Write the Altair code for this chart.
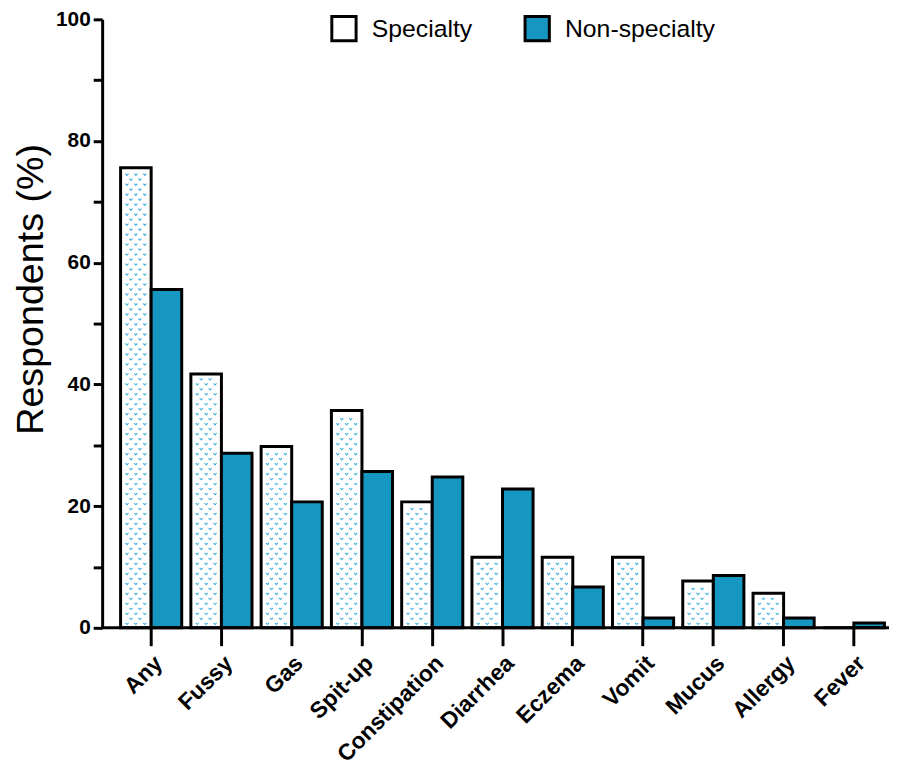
import altair as alt
import pandas as pd

categories = ["Any", "Fussy", "Gas", "Spit-up", "Constipation", "Diarrhea",
              "Eczema", "Vomit", "Mucus", "Allergy", "Fever"]
groups = ["Specialty", "Non-specialty"]
specialty = [75.6, 41.7, 29.8, 35.7, 20.7, 11.6, 11.6, 11.6, 7.7, 5.7, 0.0]
non_specialty = [55.6, 28.7, 20.7, 25.7, 24.8, 22.8, 6.7, 1.6, 8.6, 1.6, 0.8]
y_ticks = list(range(0, 101, 10))

rows = []
for c, s, n in zip(categories, specialty, non_specialty):
    rows.append({"cat": c, "group": "Specialty", "value": s})
    rows.append({"cat": c, "group": "Non-specialty", "value": n})
df = pd.DataFrame(rows)

# decorative "v" pattern inside the Specialty bars (derived from the values)
pat = []
step = 0.82
for c, s in zip(categories, specialty):
    k = 0
    yv = 0.7
    while yv < s - 0.6:
        pat.append({"cat": c, "y": yv, "parity": k % 2})
        yv += step
        k += 1
pat_df = pd.DataFrame(pat)

FONT = "Liberation Sans"
NS_COLOR = "#1597c1"
PAT_COLOR = "#45b3dc"
BAND_PX = 61.7  # approx band width in px, for placing pattern columns

x_enc = alt.X("cat:N", sort=categories,
              scale=alt.Scale(paddingInner=0.13, paddingOuter=0.065),
              axis=alt.Axis(title=None, domain=False, tickSize=18, tickWidth=3,
                            tickColor="black", labelAngle=-45, labelFontSize=23,
                            labelFontWeight="bold", labelFont=FONT,
                            labelColor="black", labelPadding=6))
xo_enc = alt.XOffset("group:N", sort=groups,
                     scale=alt.Scale(domain=groups, paddingInner=0, paddingOuter=0))
y_enc = alt.Y("value:Q", scale=alt.Scale(domain=[0, 100], nice=False),
              axis=alt.Axis(values=y_ticks,
                            labelExpr="datum.value % 20 === 0 ? datum.label : ''",
                            offset=14, tickSize=9, tickWidth=3, tickColor="black",
                            domainWidth=3, domainColor="black", grid=False,
                            labelFontSize=21, labelFontWeight="bold", labelFont=FONT,
                            labelColor="black", labelPadding=3,
                            title="Respondents (%)", titleFontSize=38,
                            titleFontWeight="normal", titleFont=FONT,
                            titleColor="black", titleX=-52, titleY=272))

bars = alt.Chart(df).mark_bar(stroke="black", strokeWidth=3).encode(
    x=x_enc,
    xOffset=xo_enc,
    y=y_enc,
    fill=alt.Fill("group:N", sort=groups,
                  scale=alt.Scale(domain=groups, range=["white", NS_COLOR]),
                  legend=alt.Legend(orient="none", legendX=216, legendY=-5,
                                    direction="horizontal", title=None,
                                    symbolType="square", symbolSize=600,
                                    symbolStrokeWidth=3, symbolStrokeColor="black",
                                    labelFontSize=25, labelFont=FONT,
                                    labelColor="black", labelOffset=14,
                                    columnPadding=46)),
)

shape_v = "M-1,-0.5L0,0.6L1,-0.5"
layers = [bars]
for parity, offsets in [(0, [-9, 0, 9]), (1, [-5, 4])]:
    for dx in offsets:
        bp = 0.25 + dx / BAND_PX
        layers.append(
            alt.Chart(pat_df).mark_point(shape=shape_v, filled=False,
                                         stroke=PAT_COLOR, strokeWidth=1.1,
                                         size=10, opacity=1)
            .encode(x=alt.X("cat:N", sort=categories, bandPosition=bp),
                    y=alt.Y("y:Q"))
            .transform_filter(f"datum.parity == {parity}")
        )

axis_line = alt.Chart(pd.DataFrame({"a": [0]})).mark_rule(
    color="black", strokeWidth=3).encode(
    x=alt.value(-14), x2=alt.value(780), y=alt.value(614))
layers.append(axis_line)

chart = alt.layer(*layers).properties(
    width=780, height=614,
    padding={"left": 109, "top": 8, "right": 1, "bottom": 138},
    autosize=alt.AutoSizeParams(type="none"),
).configure_view(stroke=None)

chart.save("out.html", embed_options={"renderer": "svg", "actions": False})
